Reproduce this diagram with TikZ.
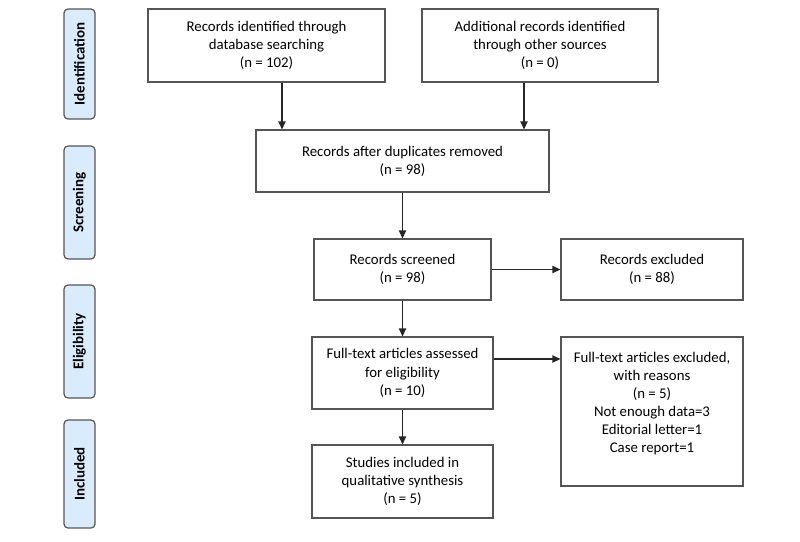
\documentclass[tikz,border=0pt]{standalone}
\usepackage{fontspec}
\setmainfont{Carlito}
\usetikzlibrary{arrows.meta}
\definecolor{sidefill}{RGB}{218,236,252}
\definecolor{boxline}{RGB}{85,85,85}
\tikzset{
  box/.style={draw=boxline, line width=0.9pt, align=center, inner sep=2pt, font=\fontsize{11.1}{13.6}\selectfont},
  side/.style={draw=boxline, fill=sidefill, rounded corners=3pt, line width=0.9pt, rotate=90, font=\fontsize{11.2}{13}\selectfont\bfseries, inner sep=0pt},
  arr/.style={-{Triangle[length=6pt,width=5.5pt]}, line width=1.1pt, draw=black!85}
}
\begin{document}
\begin{tikzpicture}[x=0.75pt,y=-0.75pt]
\useasboundingbox (0,0) rectangle (800,542);
% side labels
\node[side, minimum width=110pt*0.75, minimum height=31pt*0.75] (sid) at (79.5,64) {Identification};
\node[side, minimum width=113pt*0.75, minimum height=31pt*0.75] (sscr) at (79.5,202.5) {Screening};
\node[side, minimum width=113pt*0.75, minimum height=31pt*0.75] (selg) at (79.5,341.5) {Eligibility};
\node[side, minimum width=108pt*0.75, minimum height=31pt*0.75] (sinc) at (79.5,474) {Included};
% boxes
\node[box, minimum width=237pt*0.75, minimum height=73pt*0.75] (db) at (266.5,45.5) {Records identified through\\database searching\\(n = 102)};
\node[box, minimum width=236pt*0.75, minimum height=73pt*0.75] (oth) at (540,45.5) {Additional records identified\\through other sources\\(n = 0)};
\node[box, minimum width=293pt*0.75, minimum height=62pt*0.75] (dup) at (402.5,161) {Records after duplicates removed\\(n = 98)};
\node[box, minimum width=177pt*0.75, minimum height=61pt*0.75] (scr) at (402.5,269.5) {Records screened\\(n = 98)};
\node[box, minimum width=182pt*0.75, minimum height=61pt*0.75] (exc) at (652,269.5) {Records excluded\\(n = 88)};
\node[box, minimum width=181pt*0.75, minimum height=72pt*0.75] (ft) at (402.5,373) {Full-text articles assessed\\for eligibility\\(n = 10)};
\node[box, minimum width=182pt*0.75, minimum height=149pt*0.75] (ftx) at (652,411.5) {Full-text articles excluded,\\with reasons\\(n = 5)\\Not enough data=3\\Editorial letter=1\\Case report=1\\\rule{0pt}{11pt}};
\node[box, minimum width=181pt*0.75, minimum height=73pt*0.75] (inc) at (402.5,481.5) {Studies included in\\qualitative synthesis\\(n = 5)};
% arrow anchors
\coordinate (a1) at (282,0);
\coordinate (a2) at (524,0);
\coordinate (a3) at (0,359);
% connectors
\draw[arr] (db.south -| a1) -- (dup.north -| a1);
\draw[arr] (oth.south -| a2) -- (dup.north -| a2);
\draw[arr] (dup) -- (scr);
\draw[arr] (scr) -- (exc);
\draw[arr] (scr) -- (ft);
\draw[arr] (ft.east |- a3) -- (ftx.west |- a3);
\draw[arr] (ft) -- (inc);
\end{tikzpicture}
\end{document}
